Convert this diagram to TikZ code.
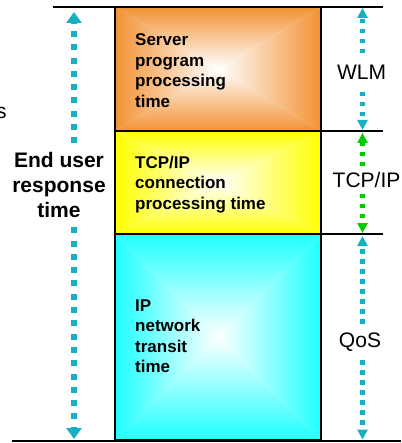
\documentclass[tikz,border=0pt]{standalone}
\usepackage{fontspec}
\setmainfont{Liberation Sans}
\usetikzlibrary{arrows.meta}

\definecolor{arrowteal}{RGB}{22,176,192}
\definecolor{arrowgreen}{RGB}{0,204,0}
\definecolor{orangeedge}{RGB}{242,146,52}
\definecolor{yellowedge}{RGB}{255,255,0}
\definecolor{cyanedge}{RGB}{30,255,255}

% Rectangular "from centre" gradient: four triangles, edge colour fading to white
\newcommand\pyrfill[5]{%
  \pgfmathsetmacro\pyrcx{(#1+#3)/2}%
  \pgfmathsetmacro\pyrcy{(#2+#4)/2}%
  \shade[top color=#5,bottom color=white] (#1,#2) -- (#3,#2) -- (\pyrcx,\pyrcy) -- cycle;
  \shade[top color=white,bottom color=#5] (#1,#4) -- (#3,#4) -- (\pyrcx,\pyrcy) -- cycle;
  \shade[left color=#5,right color=white] (#1,#2) -- (#1,#4) -- (\pyrcx,\pyrcy) -- cycle;
  \shade[left color=white,right color=#5] (#3,#2) -- (#3,#4) -- (\pyrcx,\pyrcy) -- cycle;
}

\begin{document}
\begin{tikzpicture}[x=1pt,y=-1pt,
  frame/.style={draw=black,line width=2.6pt,minimum width=206pt,inner sep=0pt},
  boxtext/.style={anchor=north west,inner sep=0pt,align=left,
    font=\bfseries\fontsize{17}{20.5}\selectfont},
  rule/.style={line width=2pt},
  sidelabel/.style={font=\fontsize{21}{25}\selectfont,inner xsep=0pt},
  span/.style={line width=4.5pt,dash pattern=on 4.5pt off 5.5pt,
    -{Triangle[width=10pt,length=10pt]}},
  bigspan/.style={line width=6pt,dash pattern=on 6pt off 7.3pt,
    -{Triangle[width=15pt,length=11pt]}}]
\useasboundingbox (0,0) rectangle (401,443);

% shaded fills of the three stacked boxes
\pyrfill{115}{7}{321}{131}{orangeedge}
\pyrfill{115}{131}{321}{234}{yellowedge}
\pyrfill{115}{234}{321}{440}{cyanedge}

% box outlines
\node[frame,minimum height=124pt] (srv) at (218,69) {};
\node[frame,minimum height=103pt] (tcp) at (218,182.5) {};
\node[frame,minimum height=206pt] (ipn) at (218,337) {};

% horizontal reference lines
\coordinate (tl) at (53,7.5);   \coordinate (tr) at (383,7.5);
\coordinate (m1l) at (321,131); \coordinate (m1r) at (383,131);
\coordinate (m2l) at (321,234); \coordinate (m2r) at (383,234);
\coordinate (bl) at (12,441);   \coordinate (br) at (401,441);
\draw[rule] (tl) -- (tr);
\draw[rule] (m1l) -- (m1r);
\draw[rule] (m2l) -- (m2r);
\draw[rule] (bl) -- (br);

% box texts
\node[boxtext] (srvtxt) at (135,33.6) {Server\\program\\processing\\time};
\node[boxtext] (tcptxt) at (135,155.5) {TCP/IP\\connection\\processing time};
\node[boxtext] (ipntxt) at (135,299.5) {IP\\network\\transit\\time};

% left: total response time
\node[font=\fontsize{21}{25}\selectfont,anchor=base east,inner sep=0pt] (cut) at (6.8,118.5) {s};
\node[font=\bfseries\fontsize{21}{25}\selectfont,align=center,inner ysep=9pt]
  (eur) at (59,185.3) {End user\\response\\time};
\coordinate (ltop) at (74,12);
\coordinate (lbot) at (74,439);
\draw[bigspan,arrowteal] (eur.north -| ltop) -- (ltop);
\draw[bigspan,arrowteal] (eur.south -| lbot) -- (lbot);

% right: per-component spans
\coordinate (wtop) at (362.5,8);   \coordinate (wbot) at (362.5,130);
\coordinate (ttop) at (362.5,133); \coordinate (tbot) at (362.5,233);
\coordinate (qtop) at (362.5,236); \coordinate (qbot) at (362.5,439.5);

\node[sidelabel,inner ysep=12pt] (wlm) at (361.5,72.5) {WLM};
\node[sidelabel,inner ysep=6pt] (tcpl) at (366.5,180) {TCP/IP};
\node[sidelabel,inner ysep=8.5pt] (qos) at (360,342) {QoS};

\draw[span,arrowteal] (wlm.north -| wtop) -- (wtop);
\draw[span,arrowteal] (wlm.south -| wbot) -- (wbot);
\draw[span,arrowgreen] (tcpl.north -| ttop) -- (ttop);
\draw[span,arrowgreen] (tcpl.south -| tbot) -- (tbot);
\draw[span,arrowteal] (qos.north -| qtop) -- (qtop);
\draw[span,arrowteal] (qos.south -| qbot) -- (qbot);
\end{tikzpicture}
\end{document}
